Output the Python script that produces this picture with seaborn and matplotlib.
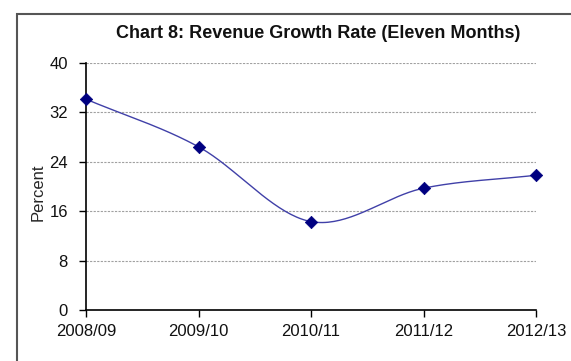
import numpy as np
import pandas as pd
import matplotlib
matplotlib.use("Agg")
import matplotlib.pyplot as plt
import seaborn as sns
from matplotlib.patches import Rectangle

categories = ["2008/09", "2009/10", "2010/11", "2011/12", "2012/13"]
values = [34.1, 26.4, 14.3, 19.7, 21.8]
yticks = [0, 8, 16, 24, 32, 40]
title = "Chart 8: Revenue Growth Rate (Eleven Months)"
ylabel = "Percent"

sns.set_theme(style="white")
plt.rcParams['font.family'] = ['Liberation Sans', 'DejaVu Sans']

fig = plt.figure(figsize=(5.71, 3.61), dpi=100)
ax = fig.add_axes([86/571, 1-310/361, (536-86)/571, (310-62.7)/361])

x = np.arange(len(categories), dtype=float)
y = np.array(values, dtype=float)

# Smoothed (Catmull-Rom style) curve through the data points, like Excel's smoothed line
def smooth(xp, yp, n=40):
    P = np.column_stack([xp, yp])
    ext = np.vstack([P[0] - (P[1] - P[0]), P, P[-1] + (P[-1] - P[-2])])
    out = []
    for i in range(1, len(ext) - 2):
        p0, p1, p2, p3 = ext[i-1], ext[i], ext[i+1], ext[i+2]
        c1 = p1 + (p2 - p0) / 6.0
        c2 = p2 - (p3 - p1) / 6.0
        t = np.linspace(0, 1, n)[:, None]
        seg = (1-t)**3*p1 + 3*(1-t)**2*t*c1 + 3*(1-t)*t**2*c2 + t**3*p2
        out.append(seg if i == 1 else seg[1:])
    return np.vstack(out)

curve = smooth(x, y)
curve_df = pd.DataFrame({"x": curve[:, 0], "y": curve[:, 1]})
pts_df = pd.DataFrame({"x": x, "y": y})

sns.lineplot(data=curve_df, x="x", y="y", ax=ax, color="#4040a8", linewidth=1.0,
             sort=False, estimator=None)
sns.scatterplot(data=pts_df, x="x", y="y", ax=ax, marker="D", s=40, color="#000080",
                edgecolor="#000080", linewidth=0.5, zorder=5, clip_on=False)

ax.set_xlim(0, len(categories) - 1)
ax.set_ylim(0, 40)
ax.set_xticks(x)
ax.set_xticklabels(categories)
ax.set_yticks(yticks)
ax.set_xlabel("")
ax.set_ylabel(ylabel, fontsize=12, labelpad=0)
ax.yaxis.set_label_coords(-0.089, 0.475)

for v in yticks[1:]:
    ax.axhline(v, color="#a0a0a0", linewidth=0.8, linestyle=(0, (2, 1.2)), zorder=1)

for s in ["top", "right"]:
    ax.spines[s].set_visible(False)
for s in ["left", "bottom"]:
    ax.spines[s].set_color("black")
    ax.spines[s].set_linewidth(1.2)

ax.tick_params(axis="y", direction="out", length=5, width=1.0, color="black",
               labelsize=12, pad=8, left=True)
ax.tick_params(axis="x", direction="out", length=5, width=1.0, color="black",
               labelsize=12, pad=5, bottom=True)
for lbl in ax.get_xticklabels() + ax.get_yticklabels():
    lbl.set_color("#111111")

fig.text(318.5/571, 1-33/361, title, ha="center", va="center", fontsize=13,
         fontweight="bold", color="#111111")

# Outer chart border (cropped at the right and bottom)
fig.patches.append(Rectangle((17/571, -0.05), 1.1, 1-14/361+0.05, transform=fig.transFigure,
                             fill=False, edgecolor="#555555", linewidth=1.5))

fig.savefig("out.png", dpi=100)
